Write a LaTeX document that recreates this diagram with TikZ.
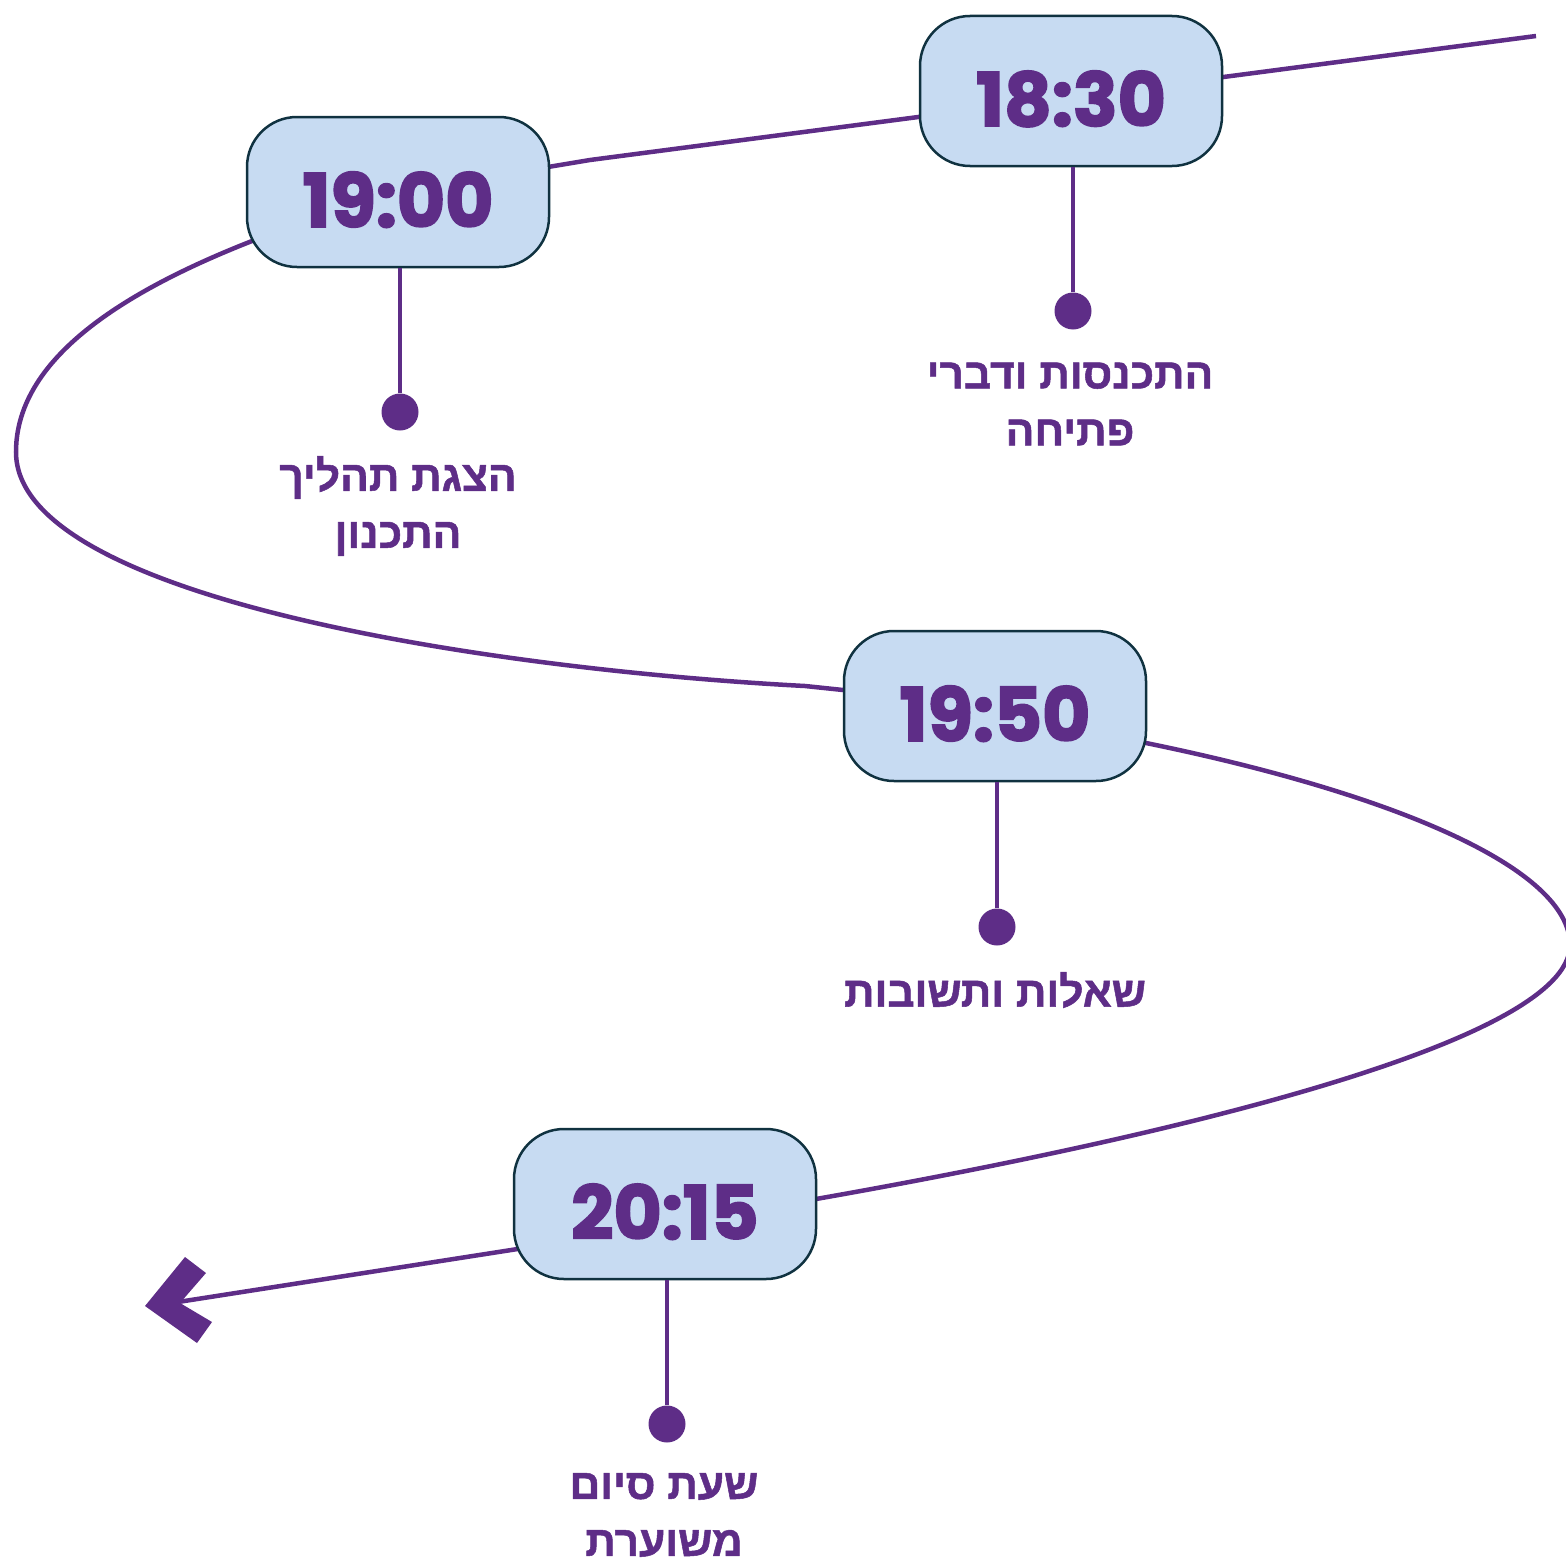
\documentclass[tikz,border=0pt]{standalone}
\usepackage{fontspec}
\TeXXeTstate=1
\setmainfont{Poppins}
\newfontfamily\timefont[BoldFeatures={FakeBold=2.5}]{Poppins}
\newfontfamily\hebfont[Script=Hebrew,BoldFeatures={FakeBold=1.2}]{Liberation Sans}
\newcommand\timetxt[1]{\raisebox{-35pt}[0pt][0pt]{#1}}
\usetikzlibrary{backgrounds,calc}
\definecolor{tlpurple}{RGB}{94,45,135}
\definecolor{tlfill}{RGB}{199,219,242}
\definecolor{tlborder}{RGB}{16,50,64}
\begin{document}
\begin{tikzpicture}[x=1pt,y=-1pt,
  timebox/.style={draw=tlborder, line width=2.5pt, fill=tlfill, rounded corners=50pt,
    minimum width=302pt, minimum height=150pt, inner sep=0pt,
    font=\timefont\fontsize{74}{74}\selectfont\bfseries, text=tlpurple},
  pathline/.style={draw=tlpurple, line width=4.5pt},
  stemline/.style={draw=tlpurple, line width=4.5pt},
  dotnode/.style={circle, fill=tlpurple, minimum size=37pt, inner sep=0pt},
  lbl/.style={align=center, text=tlpurple, font=\hebfont\bfseries\fontsize{42.5}{57}\selectfont}]
\useasboundingbox (0,0) rectangle (1566,1563);

\node[timebox] (t1830) at (1071,91) {\timetxt{18:30}};
\node[timebox] (t1900) at (398,192) {\timetxt{19:00}};
\node[timebox] (t1950) at (995,706) {\timetxt{19:50}};
\node[timebox] (t2015) at (665,1204) {\timetxt{20:15}};

\coordinate (start) at (1536,36);
\coordinate (p18) at ($(t1830.center)+(0,6)$);
\coordinate (p20) at ($(t2015.center)+(0,22)$);
\coordinate (tip) at (178,1302);

\begin{pgfonlayer}{background}
\draw[pathline] (start) -- (p18) -- (590,160) -- (t1900.center)
  .. controls (200,250) and (16,330) .. (16,452)
  .. controls (16,600) and (500,670) .. (805,686) -- (t1950.center)
  -- (1146,743) .. controls (1400,795) and (1570,870) .. (1570,945)
  .. controls (1570,1045) and (1140,1142) .. (816,1199) -- (p20) -- (tip);
\end{pgfonlayer}
\fill[tlpurple] (145,1306) -- (185,1257) -- (206,1273) -- (180,1303) -- (212,1322) -- (197,1343) -- cycle;

\node[dotnode] (d1830) at (1073,311) {};
\node[dotnode] (d1900) at (400,412) {};
\node[dotnode] (d1950) at (997,927) {};
\node[dotnode] (d2015) at (667,1424) {};
\draw[stemline] (t1830.south -| d1830) -- (d1830);
\draw[stemline] (t1900.south -| d1900) -- (d1900);
\draw[stemline] (t1950.south -| d1950) -- (d1950);
\draw[stemline] (t2015.south -| d2015) -- (d2015);

\node[lbl] (l1830) at (1070,404) {\beginR התכנסות ודברי\endR\\\beginR פתיחה\endR};
\node[lbl] (l1900) at (398,506) {\beginR הצגת תהליך\endR\\\beginR התכנון\endR};
\node[lbl] (l1950) at (995,990) {\beginR שאלות ותשובות\endR};
\node[lbl] (l2015) at (664,1515) {\beginR שעת סיום\endR\\\beginR משוערת\endR};
\end{tikzpicture}
\end{document}
